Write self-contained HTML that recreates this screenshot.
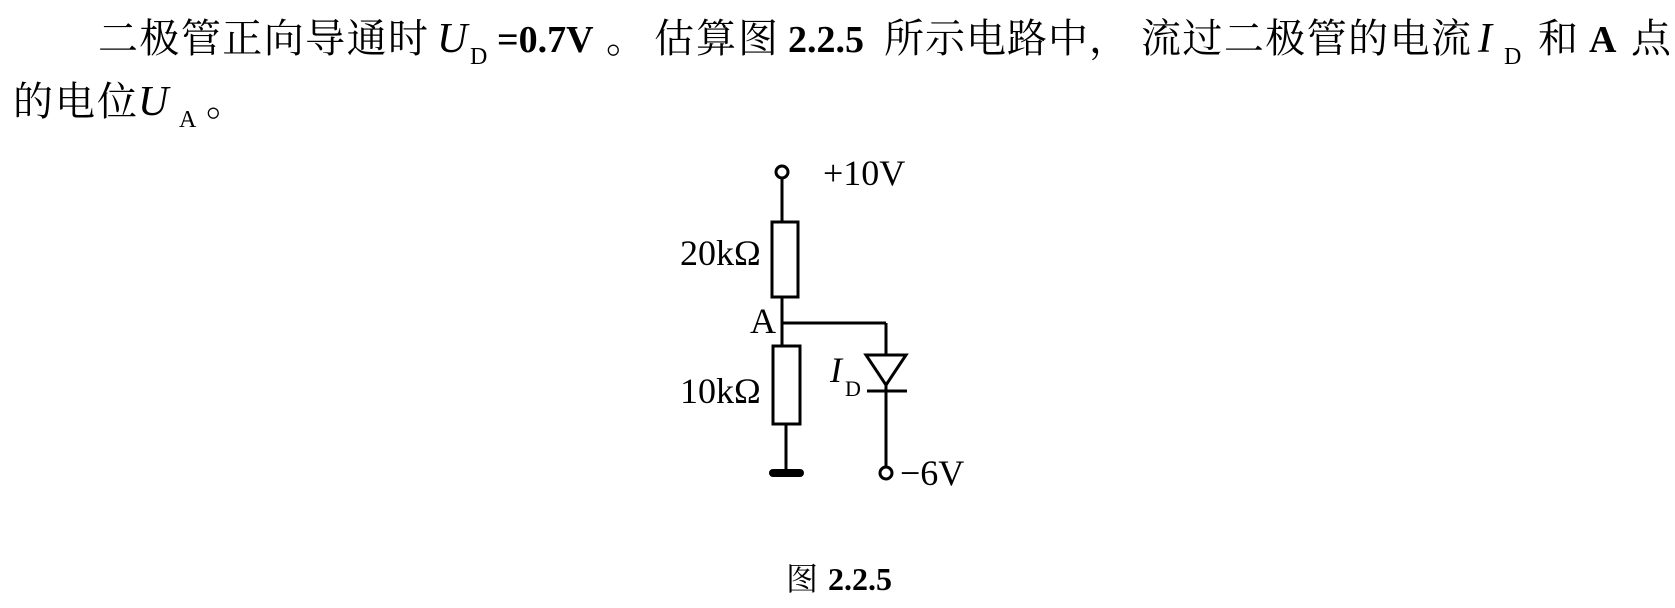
<!DOCTYPE html>
<html><head><meta charset="utf-8"><style>
html,body{margin:0;padding:0;background:#fff;}
svg{display:block;}
text{font-family:"Liberation Serif","Noto Serif CJK SC",serif;fill:#000;}
.cj{font-family:"Liberation Serif","Noto Serif CJK SC",serif;}
</style></head><body>
<svg width="1675" height="608" viewBox="0 0 1675 608" xmlns="http://www.w3.org/2000/svg">
<!-- line 1 -->
<g font-size="40">
<text class="cj" x="98" y="52" textLength="330">二极管正向导通时</text>
<text x="437" y="52" font-style="italic" font-size="42">U</text>
<text x="470" y="64" font-size="24">D</text>
<text x="497" y="52" font-weight="bold" font-size="38">=0.7V</text>
<text class="cj" x="606" y="52">。</text>
<text class="cj" x="654" y="52" textLength="124">估算图</text>
<text x="788" y="52" font-weight="bold" font-size="38">2.2.5</text>
<text class="cj" x="884" y="52" textLength="245">所示电路中，</text>
<text class="cj" x="1141" y="52" textLength="330">流过二极管的电流</text>
<text x="1478" y="52" font-style="italic" font-size="42">I</text>
<text x="1504" y="64" font-size="24">D</text>
<text class="cj" x="1538" y="52">和</text>
<text x="1589" y="52" font-weight="bold" font-size="38">A</text>
<text class="cj" x="1631" y="52">点</text>
</g>
<!-- line 2 -->
<g font-size="40">
<text class="cj" x="13" y="115" textLength="124">的电位</text>
<text x="138" y="115" font-style="italic" font-size="42">U</text>
<text x="179" y="127" font-size="24">A</text>
<text class="cj" x="206" y="115">。</text>
</g>
<!-- circuit -->
<g stroke="#000" stroke-width="3" fill="none">
<circle cx="782" cy="172" r="6"/>
<line x1="782" y1="178" x2="782" y2="222"/>
<rect x="772" y="222" width="26" height="75" fill="#fff"/>
<line x1="782" y1="297" x2="782" y2="346"/>
<line x1="782" y1="323" x2="886" y2="323"/>
<rect x="773" y="346" width="27" height="78" fill="#fff"/>
<line x1="786" y1="424" x2="786" y2="472"/>
<line x1="773" y1="473" x2="800" y2="473" stroke-width="8" stroke-linecap="round"/>
<line x1="886" y1="323" x2="886" y2="467"/>
<polygon points="866,355 906,355 886,385" fill="#fff"/>
<line x1="867" y1="391" x2="907" y2="391"/>
<circle cx="886" cy="473" r="6" fill="#fff"/>
</g>
<g font-size="36">
<text x="823" y="185">+10V</text>
<text x="680" y="265">20kΩ</text>
<text x="750" y="333">A</text>
<text x="680" y="403">10kΩ</text>
<text x="830" y="382" font-style="italic">I</text>
<text x="845" y="396" font-size="22">D</text>
<text x="900" y="485">−6V</text>
</g>
<!-- caption -->
<text class="cj" x="786" y="590" font-size="32">图</text>
<text x="828" y="590" font-size="32" font-weight="bold">2.2.5</text>
</svg>
</body></html>
